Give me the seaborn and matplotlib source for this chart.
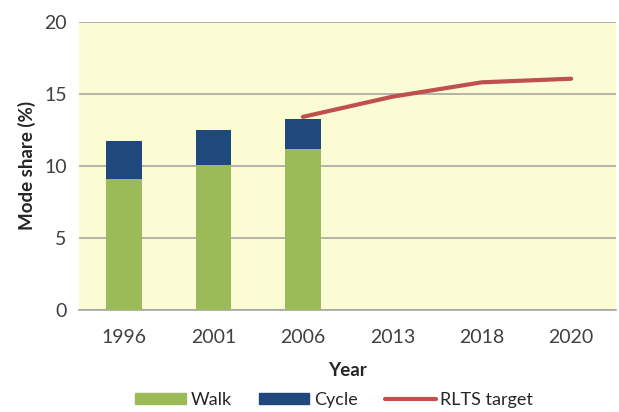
import matplotlib
matplotlib.use("Agg")
import matplotlib.pyplot as plt
import seaborn as sns
import pandas as pd
from matplotlib.patches import Patch
from matplotlib.lines import Line2D

# data
years = ["1996", "2001", "2006", "2013", "2018", "2020"]
bar_years = ["1996", "2001", "2006"]
walk = [9.1, 10.05, 11.15]
cycle = [2.6, 2.45, 2.1]
target_years = ["2006", "2013", "2018", "2020"]
target = [13.4, 14.8, 15.8, 16.05]

green = "#9BBB59"
blue = "#1F497D"
red = "#C0504D"

sns.set_theme(style="white")
plt.rcParams["font.family"] = ["Lato", "DejaVu Sans"]

df = pd.DataFrame({"year": bar_years, "walk": walk, "cycle": cycle})
df["total"] = df["walk"] + df["cycle"]
tdf = pd.DataFrame({"year": target_years, "target": target})

fig, ax = plt.subplots(figsize=(6.19, 4.12), dpi=100)
fig.subplots_adjust(left=0.128, right=0.995, top=0.947, bottom=0.248)
ax.set_facecolor("#FBFBD4")

# stacked bars: total in blue, walk drawn over it
sns.barplot(data=df, x="year", y="total", order=years, color=blue,
            width=0.4, saturation=1, linewidth=0, ax=ax, zorder=2)
sns.barplot(data=df, x="year", y="walk", order=years, color=green,
            width=0.4, saturation=1, linewidth=0, ax=ax, zorder=3)
sns.pointplot(data=tdf, x="year", y="target", order=years, color=red,
              markers="", linewidth=3, ax=ax, zorder=4)

ax.set_ylim(0, 20)
ax.set_yticks([0, 5, 10, 15, 20])
ax.yaxis.grid(True, color="#A6A6A6", linewidth=1.2, zorder=0)
ax.set_axisbelow(True)
for s in ["top", "right", "left"]:
    ax.spines[s].set_visible(False)
ax.spines["bottom"].set_color("#A6A6A6")
ax.spines["bottom"].set_linewidth(1.2)
ax.tick_params(axis="y", length=0, labelsize=14, colors="#404040", pad=9)
ax.tick_params(axis="x", length=0, labelsize=14, colors="#404040", pad=14)

ax.set_xlabel("Year", fontsize=13.5, fontweight="bold", labelpad=11)
ax.set_ylabel("Mode share (%)", fontsize=13.5, fontweight="bold", labelpad=6)

handles = [Patch(color=green, label="Walk"),
           Patch(color=blue, label="Cycle"),
           Line2D([], [], color=red, linewidth=3, label="RLTS target")]
fig.legend(handles=handles, loc="lower center", ncol=3, frameon=False,
           bbox_to_anchor=(0.54, -0.03), fontsize=13, handlelength=2.8,
           handleheight=0.55, columnspacing=1.5, handletextpad=0.27)

plt.savefig("out.png", dpi=100)
